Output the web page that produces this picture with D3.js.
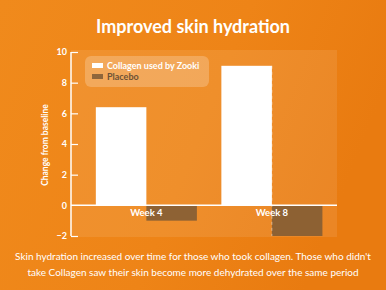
<!DOCTYPE html>
<html><head><meta charset="utf-8">
<script src="https://cdn.jsdelivr.net/npm/d3@7"></script>
<style>html,body{margin:0;padding:0;background:#ED8316;}svg{display:block;}</style>
</head><body>
<script>
const categories = ["Week 4", "Week 8"];
const seriesNames = ["Collagen used by Zooki", "Placebo"];
const collagen = [6.4, 9.1];
const placebo = [-1.0, -2.0];
const yTicks = [-2, 0, 2, 4, 6, 8, 10];
const title = "Improved skin hydration";
const yLabel = "Change from baseline";
const caption = ["Skin hydration increased over time for those who took collagen. Those who didn't",
                 "take Collagen saw their skin become more dehydrated over the same period"];

const W = 386, H = 290;
const font = "Lato, 'Open Sans', sans-serif";
const svg = d3.select("body").append("svg").attr("width", W).attr("height", H);
const defs = svg.append("defs");
const g1 = defs.append("linearGradient").attr("id","bg").attr("x1","0").attr("y1","0").attr("x2","1").attr("y2","0.3");
g1.append("stop").attr("offset","0").attr("stop-color","#F08A1C");
g1.append("stop").attr("offset","0.6").attr("stop-color","#EE8417");
g1.append("stop").attr("offset","1").attr("stop-color","#E97B10");
svg.append("rect").attr("width",W).attr("height",H).attr("fill","url(#bg)");

const plot = {left:71, right:337, top:50, bottom:237};
const y = d3.scaleLinear().domain([-2,10]).range([236, 52]);
const x0 = d3.scaleBand().domain(categories).range([plot.left, plot.right])
  .paddingInner(0.195).paddingOuter(0.157).align(0.63);
const x1 = d3.scaleBand().domain(seriesNames).range([0, x0.bandwidth()]);
const colors = {"Collagen used by Zooki":"#FFFFFF", "Placebo":"#7C5A36"};

// plot area
svg.append("rect").attr("x",plot.left).attr("y",plot.top)
  .attr("width",plot.right-plot.left).attr("height",plot.bottom-plot.top)
  .attr("fill","#FFFFFF").attr("opacity",0.09);

const data = categories.map((c,i)=>({cat:c, vals:[{s:seriesNames[0],v:collagen[i]},{s:seriesNames[1],v:placebo[i]}]}));

const groups = svg.append("g").selectAll("g").data(data).join("g")
  .attr("transform", d=>`translate(${x0(d.cat)},0)`);
groups.selectAll("rect").data(d=>d.vals).join("rect")
  .attr("x", d=>x1(d.s)).attr("width", x1.bandwidth())
  .attr("y", d=>y(Math.max(0,d.v))).attr("height", d=>Math.abs(y(d.v)-y(0)))
  .attr("fill", d=>colors[d.s]).attr("opacity", d=>d.s==="Placebo"?0.85:1);

// dashed guide on week 8
svg.append("line")
  .attr("x1", x0("Week 8")+x1("Placebo")).attr("x2", x0("Week 8")+x1("Placebo"))
  .attr("y1", y(collagen[1])).attr("y2", y(-2))
  .attr("stroke","#FFFFFF").attr("stroke-opacity",0.45).attr("stroke-width",1).attr("stroke-dasharray","3,3");

// zero line
svg.append("line").attr("x1",plot.left).attr("x2",plot.right).attr("y1",y(0)).attr("y2",y(0))
  .attr("stroke","#FFFFFF").attr("stroke-width",1.5);

// y axis
const yAxis = svg.append("g").attr("transform",`translate(${plot.left},0)`)
  .call(d3.axisLeft(y).tickValues(yTicks).tickSizeInner(-7).tickSizeOuter(0).tickPadding(4).tickFormat(d3.format("d")));
yAxis.select(".domain").attr("stroke","#FFFFFF").attr("stroke-width",1.5)
  .attr("d", `M0,${y(10)}V${y(-2)}`);
yAxis.selectAll(".tick line").attr("stroke","#FFFFFF").attr("stroke-width",1.2)
  .attr("display", d=>d===0?"none":null);
yAxis.selectAll(".tick text").attr("fill","#FFFFFF").attr("font-family",font)
  .attr("font-weight","bold").attr("font-size",9);

// category labels
svg.append("g").selectAll("text").data(categories).join("text")
  .attr("x", d=>x0(d)+x0.bandwidth()/2).attr("y", 216)
  .attr("text-anchor","middle").attr("fill","#FFFFFF").attr("font-family",font)
  .attr("font-weight","bold").attr("font-size",9.5).text(d=>d);

// y label
svg.append("text").attr("transform",`translate(48,145) rotate(-90)`)
  .attr("text-anchor","middle").attr("fill","#FFFFFF").attr("font-family",font)
  .attr("font-weight","bold").attr("font-size",8.5).text(yLabel);

// legend
const lg = svg.append("g");
lg.append("rect").attr("x",85).attr("y",56).attr("width",124).attr("height",31).attr("rx",6)
  .attr("fill","#FFFFFF").attr("opacity",0.22);
const li = lg.selectAll("g").data(seriesNames).join("g")
  .attr("transform",(d,i)=>`translate(92,${63+i*11})`);
li.append("rect").attr("width",11).attr("height",5).attr("fill",d=>colors[d]).attr("opacity",d=>d==="Placebo"?0.85:1);
li.append("text").attr("x",15).attr("y",6).attr("fill",d=>d==="Placebo"?"#6E5236":"#FFFFFF")
  .attr("font-family",font).attr("font-weight","bold").attr("font-size",9).text(d=>d);

// title
svg.append("text").attr("x",193).attr("y",33).attr("text-anchor","middle").attr("fill","#FFFFFF")
  .attr("font-family",font).attr("font-weight","bold").attr("font-size",18).text(title);

// caption
svg.append("g").selectAll("text").data(caption).join("text")
  .attr("x",193).attr("y",(d,i)=>260+i*16).attr("text-anchor","middle").attr("fill","#FFFFFF")
  .attr("font-family",font).attr("font-size",10).text(d=>d);
</script>
</body></html>
